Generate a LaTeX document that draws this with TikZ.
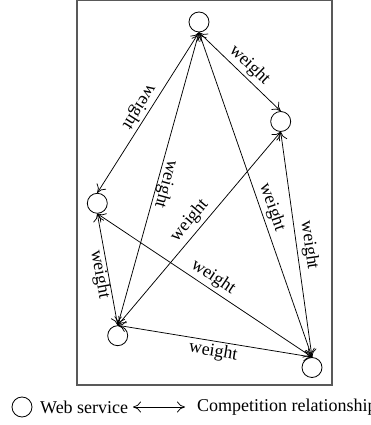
\documentclass[tikz,border=0pt]{standalone}
\usepackage{fontspec}
\setmainfont{Liberation Serif}
\usetikzlibrary{arrows.meta}
\begin{document}
\begin{tikzpicture}[x=1pt,y=1pt,
  ws/.style={circle,draw,line width=0.8pt,minimum size=20pt,inner sep=0pt},
  tip/.tip={To[length=8pt,width=11pt]},
  comp/.style={line width=0.75pt,tip-tip},
  wlab/.style={sloped,allow upside down,font=\fontsize{18}{20}\selectfont,inner sep=0pt},
  lbl/.style={font=\fontsize{18}{20}\selectfont,inner sep=0pt}]
\useasboundingbox (0,0) rectangle (371,425);
\draw[line width=1.2pt, black!65] (77,40) rectangle (332,424.5);
\node[ws] (A) at (199,403) {};
\node[ws] (B) at (280.7,303.5) {};
\node[ws] (C) at (97.3,221.7) {};
\node[ws] (D) at (117.7,89.3) {};
\node[ws] (E) at (312,57.5) {};
\draw[comp] (A.south) -- node[wlab,above=3pt,pos=0.52] {weight} (B.north);
\draw[comp] (A.south) -- node[wlab,below=2pt,pos=0.5] {weight} (C.north);
\draw[comp] (A.south) -- node[wlab,above=0pt,pos=0.51] {weight} (D.north);
\draw[comp] (A.south) -- node[wlab,above=3pt,pos=0.55] {weight} (E.north);
\draw[comp] (D.north) -- node[wlab,above=4pt,pos=0.5] {weight} (B.south);
\draw[comp] (B.south) -- node[wlab,above=4pt,pos=0.51] {weight} (E.north);
\draw[comp] (C.south) -- node[wlab,below=0pt,pos=0.53] {weight} (D.north);
\draw[comp] (C.south) -- node[wlab,above=3pt,pos=0.51] {weight} (E.north);
\draw[comp] (D.north) -- node[wlab,below=2pt,pos=0.5] {weight} (E.north);
% legend
\node[ws] (L1) at (22,18) {};
\node[lbl,anchor=west] (T1) at (40,18) {Web service};
\coordinate (P1) at (133,18);
\coordinate (P2) at (185,18);
\draw[comp] (P1) -- (P2);
\node[lbl,anchor=west] (T2) at (197,18) {Competition relationship};
\end{tikzpicture}
\end{document}
